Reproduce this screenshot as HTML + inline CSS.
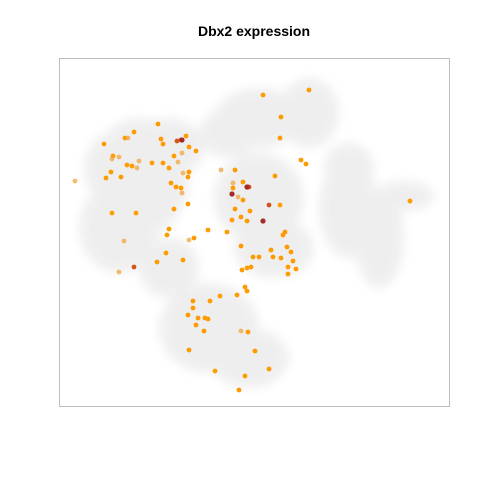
<!DOCTYPE html>
<html><head><meta charset="utf-8"><style>
body{margin:0;background:#fff;}
svg{display:block;font-family:"Liberation Sans",sans-serif;}
</style></head><body>
<svg id="chart" width="480" height="480">
<text x="254" y="36" text-anchor="middle" font-size="14" font-weight="bold">Dbx2 expression</text>
<defs><filter id="bl" x="-20%" y="-20%" width="140%" height="140%"><feGaussianBlur stdDeviation="5"/></filter></defs>
<g id="bg" filter="url(#bl)" opacity="0.85"></g>
<g id="pts"></g>
<rect x="59.5" y="58.5" width="390" height="348" fill="none" stroke="#bdbdbd"/>
</svg>
<script>
// expressing cells: x, y in embedding units, level (1 = low, 2 = mid, 3 = high)
const cellX=[16,45,54,53,60,66,69,75,99,102,104,118,122,127,130,137,123,115,119,93,104,110,68,73,78,80,52,62,47,124,130,129,112,117,122,123,53,77,115,129,110,108,65,149,130,135,107,98,124,60,75,162,176,174,174,184,190,173,179,184,176,182,191,173,168,188,182,204,222,221,242,247,216,221,210,226,224,228,232,212,214,222,234,194,200,229,237,229,188,192,183,186,188,161,178,134,151,134,129,139,146,149,137,145,182,189,130,196,156,210,186,180,351,250];
const cellY=[123,86,98,101,99,80,80,74,66,81,86,83,82,78,89,93,95,98,104,105,105,110,107,108,110,103,114,119,120,115,114,119,125,129,130,135,155,155,151,146,171,177,183,172,182,180,195,204,202,214,209,112,112,125,130,124,129,136,139,142,151,159,153,162,174,163,188,37,59,80,102,106,118,147,147,174,177,189,194,192,199,200,203,199,199,209,211,216,210,209,212,229,233,238,237,243,243,250,257,260,260,261,267,273,273,274,292,293,313,311,318,332,143,32];
const cellLvl=[1,2,2,1,1,2,1,2,2,2,2,3,3,2,2,2,1,2,1,2,2,2,2,2,1,1,2,2,2,1,2,2,2,2,2,1,2,2,2,2,2,2,1,2,1,2,2,2,2,1,3,1,2,1,2,2,3,3,1,2,2,2,2,2,2,2,2,2,2,2,2,2,2,2,3,2,2,2,2,2,2,2,2,2,2,2,2,2,2,2,2,2,2,2,2,2,2,2,2,2,2,2,2,2,1,2,2,2,2,2,2,2,2,2];
const highX=[123,188,173,204];
const highY=[82,129,136,163];
// background density blobs: cx, cy, rx, ry
const blobX=[80,60,110,55,200,250,170,200,215,150,190,290,320,290,345,110];
const blobY=[120,170,90,110,60,55,75,140,190,270,300,150,180,110,138,210];
const blobRX=[50,40,35,30,45,30,30,45,40,50,40,30,25,25,30,30];
const blobRY=[60,45,30,35,30,35,25,45,30,45,30,50,50,25,15,30];

const ox=59, oy=58;
const sx=v=>ox+v, sy=v=>oy+v;
const NS="http://www.w3.org/2000/svg";
const bg=document.getElementById('bg');
for(let i=0;i<blobX.length;i++){
  const e=document.createElementNS(NS,'ellipse');
  e.setAttribute('cx',sx(blobX[i]));e.setAttribute('cy',sy(blobY[i]));
  e.setAttribute('rx',blobRX[i]);e.setAttribute('ry',blobRY[i]);
  e.setAttribute('fill','#ececec');
  
  
  bg.appendChild(e);
}
const pts=document.getElementById('pts');
const cols={1:'rgba(240,170,70,0.8)',2:'#ff9a00',3:'#d2561a'};
for(let i=0;i<cellX.length;i++){
  const c=document.createElementNS(NS,'circle');
  c.setAttribute('cx',sx(cellX[i]));c.setAttribute('cy',sy(cellY[i]));
  c.setAttribute('r',2.4);c.setAttribute('fill',cols[cellLvl[i]]);
  
  
  pts.appendChild(c);
}
for(let i=0;i<highX.length;i++){
  const c=document.createElementNS(NS,'circle');
  c.setAttribute('cx',sx(highX[i]));c.setAttribute('cy',sy(highY[i]));
  c.setAttribute('r',2.6);c.setAttribute('fill','#a52a2a');
  
  
  pts.appendChild(c);
}
</script>
</body></html>
